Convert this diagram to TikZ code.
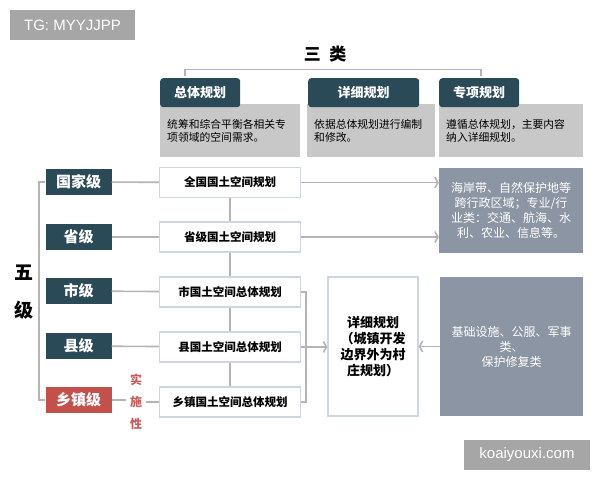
\documentclass[tikz,border=0pt]{standalone}
\usepackage{fontspec}
\setmainfont{Noto Sans CJK SC}
\newfontfamily\marksans{Liberation Sans}
\usetikzlibrary{positioning,calc,arrows.meta}
\definecolor{tealdark}{RGB}{43,74,88}
\definecolor{levelred}{RGB}{196,80,74}
\definecolor{textred}{RGB}{200,92,92}
\definecolor{descgray}{RGB}{200,200,200}
\definecolor{bluegray}{RGB}{140,149,163}
\definecolor{linegray}{RGB}{180,180,180}
\definecolor{planline}{RGB}{205,215,228}
\definecolor{markgray}{RGB}{166,166,166}

\begin{document}
\begin{tikzpicture}[x=1pt, y=-1pt,
    level/.style={fill=tealdark, text=white, minimum width=66, minimum height=26, inner sep=0pt, font=\bfseries\fontsize{15}{18}\selectfont},
    plan/.style={draw=planline, line width=1.4pt, fill=white, minimum width=141, minimum height=30, inner sep=0pt, font=\bfseries\fontsize{11.5}{14}\selectfont},
    tab/.style={fill=tealdark, text=white, rounded corners=3pt, minimum height=29, inner sep=0pt, font=\bfseries\fontsize{13}{15}\selectfont},
    desc/.style={fill=descgray, minimum height=53, inner xsep=7pt, inner ysep=0pt, align=left, font=\fontsize{10.8}{12.5}\selectfont},
    scope box/.style={fill=bluegray, text=white, inner sep=0pt, align=center, font=\fontsize{12}{15}\selectfont},
    wmark/.style={fill=markgray, text=white, inner sep=0pt, font=\marksans\fontsize{15}{18}\selectfont},
    link/.style={draw=linegray, line width=1.6pt},
    arr/.style={link, -{Straight Barb[length=3pt,width=11pt]}}
]
\useasboundingbox (0,0) rectangle (600,480);

% watermarks
\node[wmark, minimum width=125, minimum height=30] (tg) at (72.5,25) {TG: MYYJJPP};
\node[wmark, minimum width=126, minimum height=30] (site) at (527,455) {koaiyouxi.com};

% three categories
\node[font=\bfseries\fontsize{17}{20}\selectfont] (sanlei) at (325,54) {三\hspace{0.5em}类};
\coordinate (brl) at (185,76);
\coordinate (brr) at (481,76);
\draw[link] (brl) -- ++(0,-6.5) -| (brr);

\node[desc, text width=126, anchor=north west] (d1) at (160,104) {统筹和综合平衡各相关专\\项领域的空间需求。};
\node[desc, text width=114, anchor=north west] (d2) at (307,104) {依据总体规划进行编制\\和修改。};
\node[desc, text width=130, anchor=north west] (d3) at (439,104) {遵循总体规划，主要内容\\纳入详细规划。};
\node[tab, minimum width=80, anchor=north west] (t1) at (160,78) {总体规划};
\node[tab, minimum width=111, anchor=north west] (t2) at (308,78) {详细规划};
\node[tab, minimum width=80, anchor=north west] (t3) at (439,78) {专项规划};

% five levels
\node[font=\bfseries\fontsize{19}{22}\selectfont] (wu) at (24,273) {五};
\node[font=\bfseries\fontsize{19}{22}\selectfont] (ji) at (24,310) {级};

\node[level] (l1) at (78.5,182) {国家级};
\node[level] (l2) at (78.5,237) {省级};
\node[level] (l3) at (78.5,291) {市级};
\node[level] (l4) at (78.5,346) {县级};
\node[level, fill=levelred] (l5) at (78.5,400) {乡镇级};
\draw[link] (l1.west) -- ++(-6.5,0) |- (l5.west);

\node[plan] (p1) at (230,182.5) {全国国土空间规划};
\node[plan] (p2) at (230,237) {省级国土空间规划};
\node[plan] (p3) at (230,292) {市国土空间总体规划};
\node[plan] (p4) at (230,347) {县国土空间总体规划};
\node[plan] (p5) at (230,402) {乡镇国土空间总体规划};

\node[text=textred, align=center, font=\bfseries\fontsize{12}{22}\selectfont] (ssx) at (136,402) {实\\施\\性};

\draw[link] (l1) -- (p1);
\draw[link] (l2) -- (p2);
\draw[link] (l3) -- (p3);
\draw[link] (l4) -- (p4);
\draw[link] (l5.east) -- (l5.east -| ssx.west);
\draw[link] (p5.west -| ssx.east) -- (p5.west);
\draw[link] (p1) -- (p2);
\draw[link] (p2) -- (p3);
\draw[link] (p3) -- (p4);
\draw[link] (p4) -- (p5);

% right side
\node[scope box, minimum width=144, minimum height=85] (g1) at (511,210.5) {海岸带、自然保护地等\\跨行政区域；专业/行\\业类：交通、航海、水\\利、农业、信息等。};
\node[scope box, minimum width=143, minimum height=139] (g2) at (511.5,346.5) {基础设施、公服、军事\\类、\\保护修复类};
\node[draw=planline, line width=1.4pt, minimum width=90, minimum height=139, inner sep=0pt, align=center, font=\bfseries\fontsize{13}{16}\selectfont] (dt) at (373,346.5) {详细规划\\（城镇开发\\边界外为村\\庄规划）};

\draw[arr] (p1.east) -- (p1.east -| g1.west);
\draw[arr] (p2.east) -- (p2.east -| g1.west);

\coordinate (brk) at (306,0);
\draw[link] (p3.east) -- (p3.east -| brk) -- (p5.east -| brk) -- (p5.east);
\draw[arr] (p4.east) -- (p4.east -| dt.west);
\draw[arr] (g2.west |- dt.east) -- (dt.east);
\end{tikzpicture}
\end{document}
